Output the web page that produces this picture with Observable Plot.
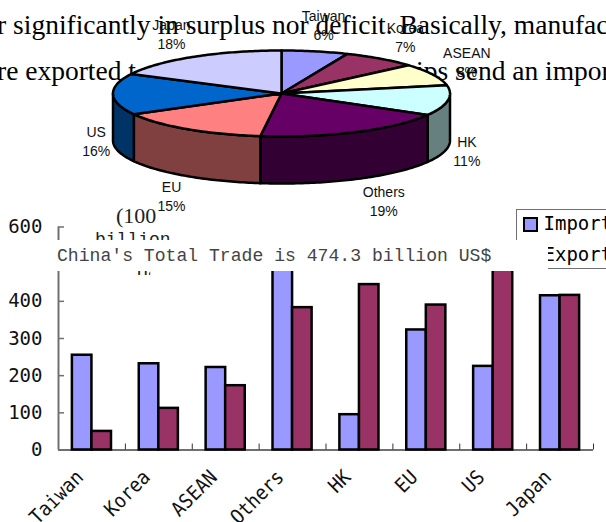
<!DOCTYPE html>
<html>
<head>
<meta charset="utf-8">
<script src="https://cdn.jsdelivr.net/npm/d3@7"></script>
<script src="https://cdn.jsdelivr.net/npm/@observablehq/plot@0.6"></script>
<style>
  html, body { margin: 0; padding: 0; background: #fff; }
  #page { position: relative; width: 606px; height: 522px; overflow: hidden; background: #fff; }
  #page > svg, #page > div, #page > span { position: absolute; }
  #page > svg { left: 0; top: 0; }
  .prose { font: 27.5px "Liberation Serif", serif; color: #000; white-space: pre; line-height: 1; }
  .unit { font: 18px "Liberation Mono", monospace; color: #222; white-space: pre; line-height: 1; }
  .unitTop { font: 22px "Liberation Serif", serif; color: #222; white-space: pre; line-height: 1; }
  .caption { font: 18.1px "Liberation Mono", monospace; color: #444; white-space: pre; line-height: 1; }
</style>
</head>
<body>
<div id="page"></div>
<script>
// Trade by partner, as shares of the total
const pieNames = ["Taiwan", "Korea", "ASEAN", "HK", "Others", "EU", "US", "Japan"];
const pieShares = [6.4, 7.2, 8.3, 11.4, 18.7, 15, 15.5, 17.5];

// Trade by partner, imports and exports
const partners = ["Taiwan", "Korea", "ASEAN", "Others", "HK", "EU", "US", "Japan"];
const importValues = [255, 232, 222, 510, 95, 323, 225, 415];
const exportValues = [50, 112, 173, 383, 445, 390, 525, 416];
const flows = ["Import", "Export"];
const valueTicks = [0, 100, 200, 300, 400, 500, 600];

// Colours
const topColors = ["#9999FF", "#993366", "#FFFFCC", "#CCFFFF", "#660066", "#FF8080", "#0066CC", "#CCCCFF"];
const sideColors = ["#4D4D80", "#4D1A33", "#808066", "#668080", "#330033", "#804040", "#003366", "#666680"];
const flowColors = ["#9999FF", "#993366"];

const page = document.getElementById("page");
const rad = (deg) => deg * Math.PI / 180;
const gothic = "DejaVu Sans Mono";

function addText(cls, text, left, top) {
  const el = document.createElement("span");
  el.className = cls;
  el.textContent = text;
  el.style.left = left + "px";
  el.style.top = top + "px";
  page.append(el);
  return el;
}

// Half-width glyphs: fit each label to a fixed advance per character
function condense(texts, advance) {
  texts.forEach((t) => {
    t.setAttribute("textLength", t.textContent.length * advance);
    t.setAttribute("lengthAdjust", "spacingAndGlyphs");
  });
}

// Running text behind the charts
addText("prose", "r significantly in surplus nor deficit. Basically, manufac", -3, 11);
addText("prose", "re exported t", -3, 57);
addText("prose", "ips send an impor", 416, 57);

// Shares into angular ranges, clockwise from twelve o'clock
const sum = d3.sum(pieShares);
let run = 0;
const slices = pieNames.map((name, i) => {
  const start = run / sum * 360;
  run += pieShares[i];
  return {name, share: pieShares[i], start, end: run / sum * 360, top: topColors[i], side: sideColors[i]};
});

const depth = 47 / 43; // thickness of the disc, in units of the vertical radius
const rim = (a, drop = 0) => ({x: Math.sin(rad(a)), y: Math.cos(rad(a)) - drop});

const topFaces = slices.flatMap((s) => {
  const steps = d3.range(s.start, s.end, 1).concat(s.end);
  const pts = [{x: 0, y: 0}, ...steps.map((a) => rim(a)), {x: 0, y: 0}];
  return pts.map((p) => ({...p, id: s.name, fill: s.top}));
});

// The wall shows only along the near half of the disc
const sideFaces = slices.flatMap((s) => {
  const a0 = Math.max(s.start, 90), a1 = Math.min(s.end, 270);
  if (a1 <= a0) return [];
  const steps = d3.range(a0, a1, 1).concat(a1);
  const pts = [...steps.map((a) => rim(a)), ...steps.slice().reverse().map((a) => rim(a, depth)), rim(a0)];
  return pts.map((p) => ({...p, id: s.name, fill: s.side}));
});

// Labels sit beyond the rim of each slice, clear of the wall on the near side
const labelPoints = slices.map((s) => {
  const mid = (s.start + s.end) / 2;
  const cy = Math.cos(rad(mid));
  const sx = 1.25 * Math.sin(rad(mid)) + (cy < 0 ? 0.05 : 0);
  return {
    name: s.name,
    pct: Math.round(s.share) + "%",
    x: Math.sign(sx) * Math.min(Math.abs(sx), 1.1),
    y: 1.6 * cy - (cy < 0 ? depth : 0)
  };
});

const pie = Plot.plot({
  width: 606, height: 522,
  margin: 0,
  style: {background: "transparent"},
  x: {domain: [-1, 1], range: [112.5, 449.5], axis: null},
  y: {domain: [-1, 1], range: [136, 50], axis: null},
  color: {type: "identity"},
  marks: [
    Plot.line(sideFaces, {x: "x", y: "y", z: "id", fill: "fill", stroke: "black", strokeWidth: 2.5, curve: "linear"}),
    Plot.line(topFaces, {x: "x", y: "y", z: "id", fill: "fill", stroke: "black", strokeWidth: 2.5, curve: "linear"}),
    Plot.text(labelPoints, {x: "x", y: "y", text: "name", dy: -9.5, fontSize: 14, fontFamily: "Liberation Sans", fill: "#111"}),
    Plot.text(labelPoints, {x: "x", y: "y", text: "pct", dy: 9.5, fontSize: 14, fontFamily: "Liberation Sans", fill: "#111", ariaLabel: "share label"})
  ]
});
condense(pie.querySelectorAll('g[aria-label="share label"] text'), 7.3);
page.append(pie);

// Vertical axis title, wrapped over three lines and mostly hidden by the caption strip
addText("unitTop", "(100", 116, 205);
addText("unit", "billion", 95, 231);
const unitTail = addText("unit", "US$)", 137, 269);
unitTail.style.clipPath = "inset(2px 30px 12px 0)";

// Shared frame of the bar chart: value axis, baseline and partner boundaries
const margins = {marginLeft: 58, marginRight: 13, marginTop: 226.5, marginBottom: 72.5};
const valueDomain = [0, 600];

const frame = Plot.plot({
  width: 606, height: 522, ...margins,
  style: {background: "transparent"},
  x: {domain: [0, partners.length], axis: null},
  y: {domain: valueDomain, axis: null},
  marks: [
    Plot.ruleX([0], {stroke: "#707070", strokeWidth: 2}),
    Plot.ruleY([0], {stroke: "#707070", strokeWidth: 2}),
    Plot.ruleY(valueTicks, {x1: 0, x2: 0.09, stroke: "#707070", strokeWidth: 1.5}),
    Plot.ruleX(d3.range(1, partners.length + 1), {y1: 0, y2: 16, stroke: "#333", strokeWidth: 1}),
    Plot.text(valueTicks, {x: () => 0, y: (d) => d, text: (d) => String(d), textAnchor: "end", dx: -16, fontSize: 19, fontFamily: gothic, fill: "#111", ariaLabel: "value label"})
  ]
});
condense(frame.querySelectorAll('g[aria-label="value label"] text'), 10);
page.append(frame);

const rows = partners.flatMap((p, i) => [
  {partner: p, flow: flows[0], value: importValues[i]},
  {partner: p, flow: flows[1], value: exportValues[i]}
]);

const bars = Plot.plot({
  width: 606, height: 522, ...margins,
  style: {background: "transparent"},
  fx: {domain: partners, padding: 0, round: false, label: null},
  x: {domain: flows, paddingInner: 0, paddingOuter: 0.71, round: false, axis: null},
  y: {domain: valueDomain, axis: null},
  color: {domain: flows, range: flowColors},
  marks: [
    Plot.barY(rows, {fx: "partner", x: "flow", y: "value", fill: "flow", stroke: "black", strokeWidth: 2.5}),
    Plot.axisFx({anchor: "bottom", label: null, tickRotate: -45, tickSize: 0, tickPadding: 24, dx: -12, fontSize: 20, fontFamily: gothic, fill: "#111"})
  ]
});
condense(bars.querySelectorAll('g[aria-label="fx-axis tick label"] text'), 11);
page.append(bars);

// Legend box, open on the right; drawn with the same flow colours as the bars
const legend = Plot.plot({
  width: 606, height: 522, margin: 0,
  style: {background: "transparent"},
  x: {domain: [0, 606], range: [0, 606], axis: null},
  y: {domain: [0, 522], range: [0, 522], axis: null},
  color: {domain: flows, range: flowColors},
  marks: [
    Plot.text(flows, {x: () => 543, y: (d, i) => 223 + i * 31, text: (d) => d, textAnchor: "start", fontSize: 19, fontFamily: gothic, fill: "#000", ariaLabel: "legend label"})
  ]
});
condense(legend.querySelectorAll('g[aria-label="legend label"] text'), 10.5);

const legendBox = document.createElement("div");
legendBox.style.cssText = "left:516px;top:209px;width:120px;height:58px;border:1.5px solid #707070;background:#fff;";
page.append(legendBox);
page.append(legend);
flows.forEach((flow, i) => {
  const swatch = document.createElement("div");
  swatch.style.cssText = `left:523px;top:${217 + i * 31}px;width:11px;height:11px;border:2px solid #000;background:${flowColors[i]};`;
  page.append(swatch);
});

// Caption strip across the chart
const strip = document.createElement("div");
strip.style.cssText = "left:0;top:240px;width:548px;height:31px;background:#fff;";
page.append(strip);
addText("caption", "China's Total Trade is 474.3 billion US$", 57, 247);
</script>
</body>
</html>
